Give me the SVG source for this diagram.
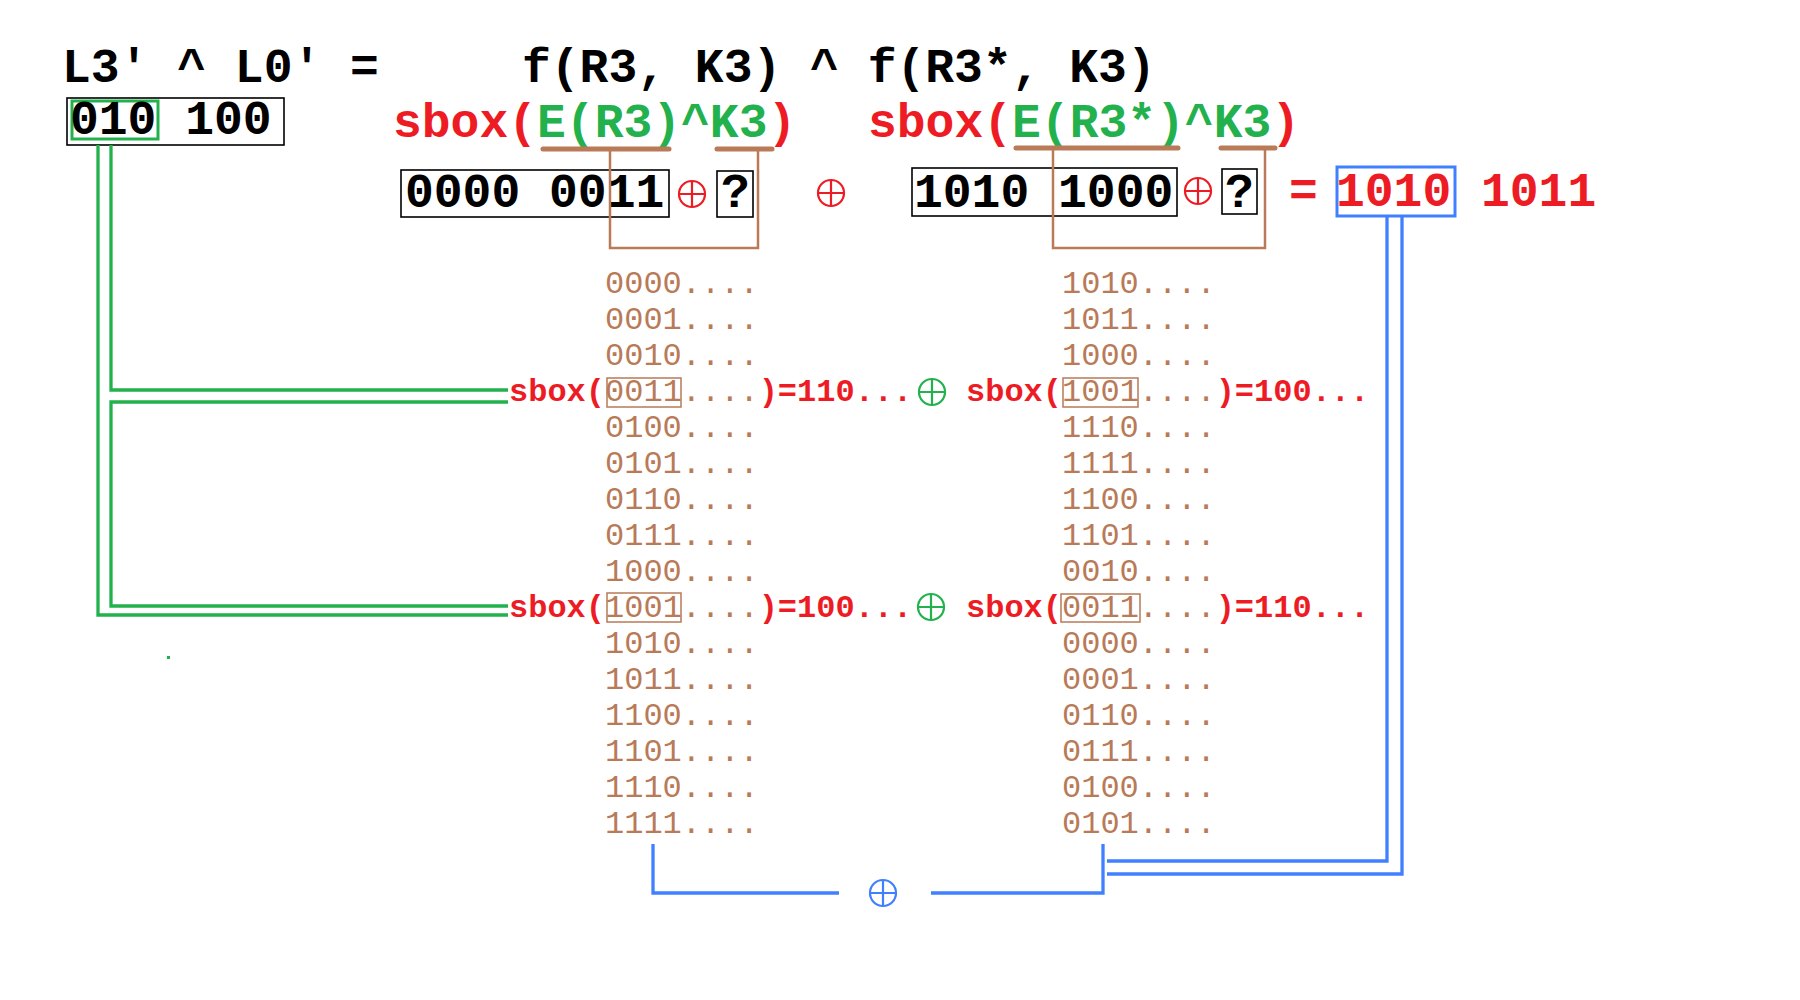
<svg xmlns="http://www.w3.org/2000/svg" width="1800" height="1000" viewBox="0 0 1800 1000">
<style>
.big{font-family:"Liberation Mono","Courier New",monospace;font-size:48px;font-weight:bold}
.row{font-family:"Liberation Mono","Courier New",monospace;font-size:32px;fill:#B97A57}
.sb{font-weight:bold;fill:#ED1C24}
.k{fill:#000}
.r{fill:#ED1C24}
.g{fill:#22B14C}
.br{fill:#B97A57;font-weight:normal}
.box{fill:none;stroke:#000;stroke-width:1.6}
.gl{fill:none;stroke:#22B14C;stroke-width:3.3}
.bl{fill:none;stroke:#4080FF;stroke-width:3.3}
.bn{fill:none;stroke:#B97A57;stroke-width:2.5}
.ul{fill:none;stroke:#B97A57;stroke-width:5;stroke-linecap:round}
.hb{fill:none;stroke:#B97A57;stroke-width:1.5}
</style>
<defs>
<g id="oplus"><circle cx="0" cy="0" r="13" fill="none" stroke-width="2.2"/><path d="M-13,0H13M0,-13V13" fill="none" stroke-width="2.2"/></g>
</defs>
<rect width="1800" height="1000" fill="#fff"/>

<g id="title">
<text class="big k" x="62" y="82">L3' ^ L0' =</text>
<text class="big k" x="522" y="82">f(R3, K3) ^ f(R3*, K3)</text>
</g>

<g id="lbox">
<rect class="box" x="67" y="98" width="217" height="47"/>
<rect x="72" y="101" width="86" height="38" fill="none" stroke="#22B14C" stroke-width="3"/>
<text class="big k" x="70" y="134">010 100</text>
</g>

<g id="f1">
<text class="big" x="393" y="137"><tspan class="r">sbox(</tspan><tspan class="g">E(R3)^K3</tspan><tspan class="r">)</tspan></text>
<rect class="box" x="401" y="170" width="268" height="47"/>
<text class="big k" x="405" y="207">0000 0011</text>
<use href="#oplus" x="692" y="194" stroke="#ED1C24"/>
<rect class="box" x="717" y="171" width="36" height="46"/>
<text class="big k" x="721" y="207">?</text>
</g>

<g id="mid-op"><use href="#oplus" x="831" y="193" stroke="#ED1C24"/></g>

<g id="f2">
<text class="big" x="868" y="137"><tspan class="r">sbox(</tspan><tspan class="g">E(R3*)^K3</tspan><tspan class="r">)</tspan></text>
<rect class="box" x="912" y="168" width="265" height="48"/>
<text class="big k" x="914" y="207">1010 1000</text>
<use href="#oplus" x="1198" y="191" stroke="#ED1C24"/>
<rect class="box" x="1222" y="169" width="35" height="45"/>
<text class="big k" x="1225" y="207">?</text>
</g>

<g id="result">
<text class="big r" x="1289" y="206">=</text>
<rect x="1337" y="167" width="118" height="49" fill="none" stroke="#4080FF" stroke-width="3"/>
<text class="big r" x="1336" y="206">1010</text>
<text class="big r" x="1481" y="206">1011</text>
</g>

<g id="col-left">
<text class="row" x="605" y="293">0000....</text>
<text class="row" x="605" y="329">0001....</text>
<text class="row" x="605" y="365">0010....</text>
<text class="row" x="509" y="401"><tspan class="sb">sbox(</tspan><tspan class="br">0011....</tspan><tspan class="sb">)=110...</tspan></text>
<rect class="hb" x="607" y="378" width="74" height="29"/>
<text class="row" x="605" y="437">0100....</text>
<text class="row" x="605" y="473">0101....</text>
<text class="row" x="605" y="509">0110....</text>
<text class="row" x="605" y="545">0111....</text>
<text class="row" x="605" y="581">1000....</text>
<text class="row" x="509" y="617"><tspan class="sb">sbox(</tspan><tspan class="br">1001....</tspan><tspan class="sb">)=100...</tspan></text>
<rect class="hb" x="607" y="593" width="74" height="29"/>
<text class="row" x="605" y="653">1010....</text>
<text class="row" x="605" y="689">1011....</text>
<text class="row" x="605" y="725">1100....</text>
<text class="row" x="605" y="761">1101....</text>
<text class="row" x="605" y="797">1110....</text>
<text class="row" x="605" y="833">1111....</text>
</g>

<g id="col-right">
<text class="row" x="1062" y="293">1010....</text>
<text class="row" x="1062" y="329">1011....</text>
<text class="row" x="1062" y="365">1000....</text>
<text class="row" x="966" y="401"><tspan class="sb">sbox(</tspan><tspan class="br">1001....</tspan><tspan class="sb">)=100...</tspan></text>
<rect class="hb" x="1063" y="378" width="75" height="29"/>
<text class="row" x="1062" y="437">1110....</text>
<text class="row" x="1062" y="473">1111....</text>
<text class="row" x="1062" y="509">1100....</text>
<text class="row" x="1062" y="545">1101....</text>
<text class="row" x="1062" y="581">0010....</text>
<text class="row" x="966" y="617"><tspan class="sb">sbox(</tspan><tspan class="br">0011....</tspan><tspan class="sb">)=110...</tspan></text>
<rect class="hb" x="1061" y="594" width="79" height="28"/>
<text class="row" x="1062" y="653">0000....</text>
<text class="row" x="1062" y="689">0001....</text>
<text class="row" x="1062" y="725">0110....</text>
<text class="row" x="1062" y="761">0111....</text>
<text class="row" x="1062" y="797">0100....</text>
<text class="row" x="1062" y="833">0101....</text>
</g>

<g id="green-ops">
<use href="#oplus" x="932" y="392" stroke="#22B14C"/>
<use href="#oplus" x="931" y="607" stroke="#22B14C"/>
</g>

<g id="blue-op"><use href="#oplus" x="883" y="893" stroke="#4080FF"/></g>

<g id="connectors">
<path class="ul" d="M543,149H669M717,149H772"/>
<path class="ul" d="M1016,148H1178M1221,148H1275"/>
<path class="bn" d="M610,149V248H758V149"/>
<path class="bn" d="M1053,148V248H1265V148"/>
<path class="gl" d="M111,145V390H508"/>
<path class="gl" d="M508,402H111V606H508"/>
<path class="gl" d="M98,145V615H508"/>
<path class="bl" d="M653,844V893H839"/>
<path class="bl" d="M931,893H1103V844"/>
<path class="bl" d="M1107,861H1387V216"/>
<path class="bl" d="M1107,874H1402V216"/>
</g>
<rect x="167" y="656" width="3" height="3" fill="#22B14C"/>
</svg>
